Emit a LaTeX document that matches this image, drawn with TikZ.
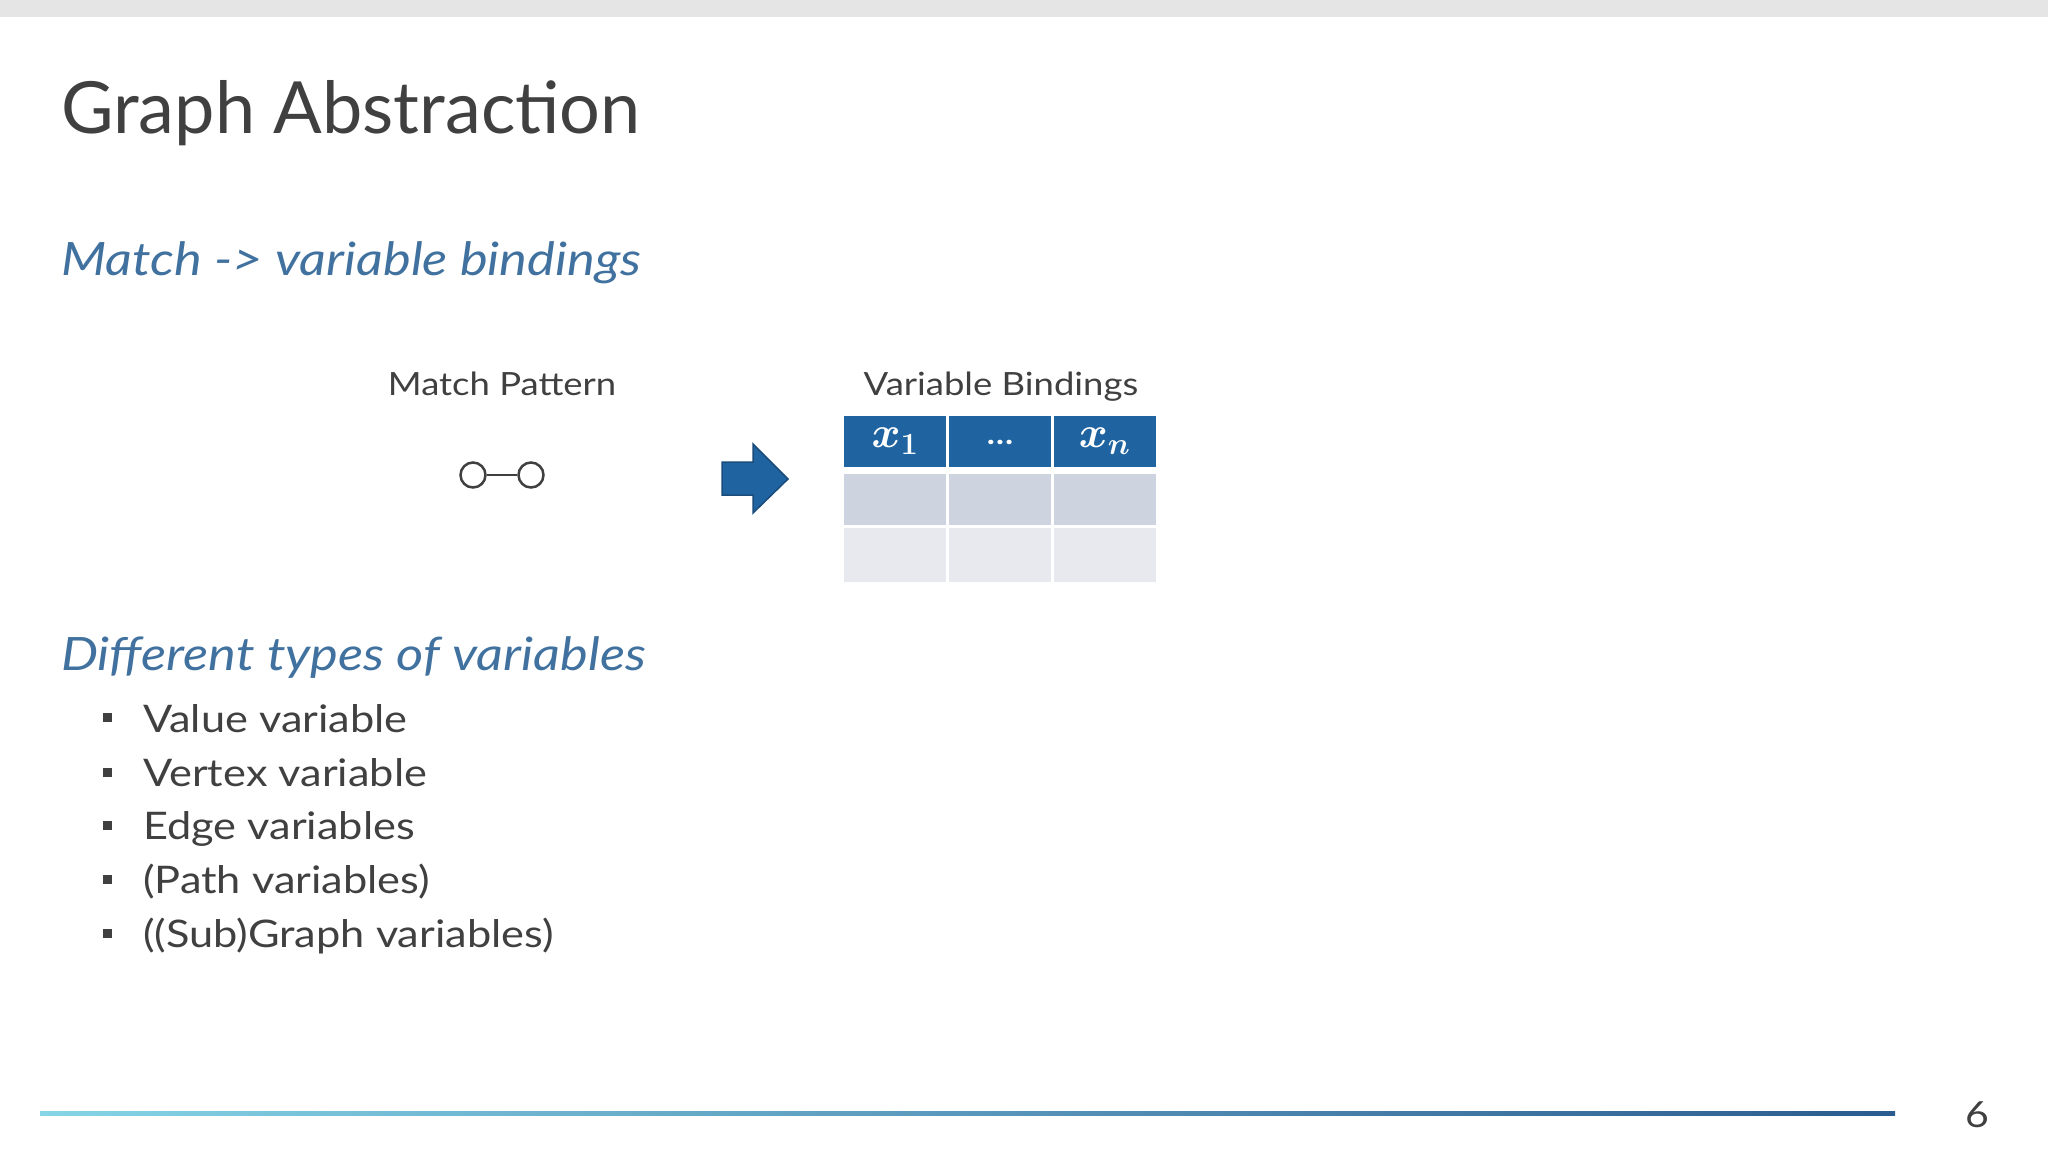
\documentclass[tikz,border=0pt]{standalone}
\RequirePackage{fix-cm}
\usepackage{amsmath}
\usepackage{fontspec}
\setmainfont{Lato}[FakeStretch=1.14]
\newfontfamily\titlefont{Lato}
\definecolor{inkgray}{HTML}{404040}
\definecolor{subblue}{HTML}{41729F}
\definecolor{headblue}{HTML}{1F64A0}
\definecolor{arrowedge}{HTML}{1A4C7C}
\definecolor{rowdark}{HTML}{CDD3DF}
\definecolor{rowlight}{HTML}{E7E9EF}
\definecolor{barcyan}{HTML}{86D4E6}
\definecolor{barblue}{HTML}{2C5B8F}
\tikzset{
  title/.style={anchor=base west, inner sep=0pt, text=inkgray, font=\titlefont\fontsize{72}{86}\selectfont},
  heading/.style={anchor=base west, inner sep=0pt, text=subblue, font=\fontsize{46}{55}\selectfont\itshape},
  item/.style={anchor=base west, inner sep=0pt, text=inkgray, font=\fontsize{38}{46}\selectfont},
  caption/.style={anchor=base, inner sep=0pt, text=inkgray, font=\fontsize{32}{38}\selectfont},
  bullet/.style={fill=inkgray, inner sep=0pt, minimum size=9pt},
  vertex/.style={circle, draw=inkgray, line width=2.5pt, fill=white, inner sep=0pt, minimum size=25pt},
  headcell/.style={fill=headblue, text=white, inner sep=0pt, minimum width=102pt, minimum height=51pt, font=\fontsize{44}{52}\selectfont},
  bodycell/.style={inner sep=0pt, minimum width=102pt}
}
\begin{document}
\begin{tikzpicture}[x=1pt,y=-1pt]
  \useasboundingbox (0,0) rectangle (2048,1152);
  \fill[black!10] (0,0) rectangle (2048,17);
  \draw
    (61,133) node[title] (title){Graph Abstraction}
    (61,275) node[heading] (match){Match -> variable bindings}
    (61,670) node[heading] (types){Different types of variables}
    (502,395) node[caption] (pattern){Match Pattern}
    (1001,395) node[caption] (bindings){Variable Bindings};
  \draw
    (473,475) node[vertex] (u){}
    (531,475) node[vertex] (v){};
  \draw[inkgray, line width=2.5pt] (u) -- (v);
  \filldraw[fill=headblue, draw=arrowedge, line width=1.5pt, line join=miter]
    (722,462) -- (753,462) -- (753,444) -- (788,479) -- (753,513) -- (753,495) -- (722,495) -- cycle;
  \draw
    (895,441.5) node[headcell] (h1){$\boldsymbol{x_1}$}
    (1000,441.5) node[headcell, font=\bfseries\fontsize{30}{36}\selectfont] (h2){\raisebox{-7pt}{…}}
    (1104.5,441.5) node[headcell] (h3){$\boldsymbol{x_n}$};
  \begin{scope}[every node/.style={bodycell, minimum height=51pt, fill=rowdark}]
    \node (r1c1) at (895,499.5) {};
    \node (r1c2) at (1000,499.5) {};
    \node (r1c3) at (1104.5,499.5) {};
  \end{scope}
  \begin{scope}[every node/.style={bodycell, minimum height=54pt, fill=rowlight}]
    \node (r2c1) at (895,555) {};
    \node (r2c2) at (1000,555) {};
    \node (r2c3) at (1104.5,555) {};
  \end{scope}
  \draw
    (107.5,717) node[bullet] (b1){}
    (107.5,772) node[bullet] (b2){}
    (107.5,825) node[bullet] (b3){}
    (107.5,879) node[bullet] (b4){}
    (107.5,933) node[bullet] (b5){};
  \draw
    (143,732) node[item] (i1){Value variable}
    (143,786) node[item] (i2){Vertex variable}
    (143,839) node[item] (i3){Edge variables}
    (143,893) node[item] (i4){(Path variables)}
    (143,947) node[item] (i5){((Sub)Graph variables)};
  \shade[left color=barcyan, right color=barblue] (40,1111) rectangle (1895,1115);
  \node[caption, font=\fontsize{36}{43}\selectfont] (page) at (1977,1127) {6};
\end{tikzpicture}
\end{document}
